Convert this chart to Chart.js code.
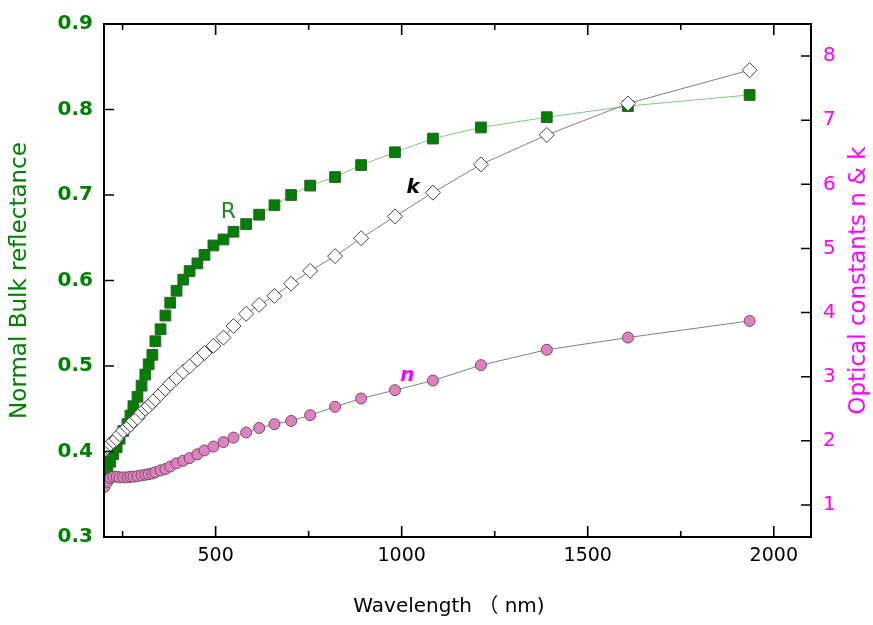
<!DOCTYPE html>
<html>
<head>
<meta charset="utf-8">
<script src="https://cdn.jsdelivr.net/npm/chart.js@4.4.1/dist/chart.umd.min.js"></script>
<style>
  html, body { margin: 0; padding: 0; background: #fff; }
  #wrap { width: 873px; height: 625px; }
</style>
</head>
<body>
<div id="wrap"><canvas id="chart" width="873" height="625"></canvas></div>
<script>
// wavelength (nm)
const wavelength = [201, 209, 217, 225, 234, 242, 252, 263, 271, 279, 290, 301, 311, 320, 330,
  338, 352, 365, 378, 395, 413, 430, 451, 470, 494, 521, 548, 582, 617, 658,
  703, 754, 821, 891, 982, 1084, 1213, 1390, 1608, 1935];

// normal bulk reflectance (left axis)
const reflectance = [0.374, 0.380, 0.388, 0.397, 0.405, 0.415, 0.424, 0.432, 0.442, 0.453, 0.464, 0.477, 0.490, 0.502, 0.513,
  0.529, 0.543, 0.559, 0.574, 0.588, 0.601, 0.611, 0.620, 0.630, 0.641, 0.648, 0.657, 0.666, 0.677, 0.688,
  0.700, 0.711, 0.721, 0.735, 0.750, 0.766, 0.779, 0.791, 0.804, 0.817];

// extinction coefficient k (right axis)
const kValues = [1.86, 1.90, 1.95, 1.99, 2.03, 2.10, 2.16, 2.21, 2.25, 2.31, 2.36, 2.44, 2.50, 2.54, 2.60,
  2.65, 2.73, 2.81, 2.89, 2.98, 3.08, 3.16, 3.27, 3.37, 3.48, 3.61, 3.79, 3.98, 4.12, 4.26,
  4.45, 4.65, 4.88, 5.16, 5.50, 5.87, 6.31, 6.77, 7.26, 7.78];

// refractive index n (right axis)
const nValues = [1.28, 1.36, 1.42, 1.44, 1.44, 1.43, 1.43, 1.43, 1.44, 1.44, 1.45, 1.46, 1.47, 1.48, 1.49,
  1.51, 1.54, 1.56, 1.60, 1.65, 1.69, 1.73, 1.79, 1.85, 1.91, 1.98, 2.05, 2.13, 2.20, 2.26,
  2.31, 2.40, 2.53, 2.66, 2.79, 2.94, 3.18, 3.42, 3.61, 3.87];

const xTicks = [500, 1000, 1500, 2000];
const xMinorTicks = [250, 750, 1250, 1750];
const leftTicks = [0.3, 0.4, 0.5, 0.6, 0.7, 0.8, 0.9];
const rightTicks = [1, 2, 3, 4, 5, 6, 7, 8];

// text labels beside the curves: [text, x, y, axis]
const curveLabels = [
  ["R", 534, 0.68, "y"],
  ["k", 1031, 5.94, "y1"],
  ["n", 1015, 3.02, "y1"],
];

const FONT = "'DejaVu Sans', 'Liberation Sans', sans-serif";
const CJK = "'DejaVu Sans', 'Noto Sans CJK SC', sans-serif";
const GREEN = "#008000";
const MAGENTA = "#ff00ff";

const pts = (ys) => wavelength.map((w, i) => ({ x: w, y: ys[i] }));

const frameTicks = {
  id: "frameTicks",
  afterDatasetsDraw(chart) {
    const { ctx, chartArea: a, scales } = chart;
    const sx = scales.x, sl = scales.y, sr = scales.y1;
    ctx.save();
    ctx.strokeStyle = "#000";
    ctx.lineWidth = 1.6;
    ctx.beginPath();
    const tick = (x1, y1, x2, y2) => { ctx.moveTo(x1, y1); ctx.lineTo(x2, y2); };
    xTicks.forEach((v) => {
      const p = sx.getPixelForValue(v);
      tick(p, a.bottom, p, a.bottom - 11);
      tick(p, a.top, p, a.top + 11);
    });
    xMinorTicks.forEach((v) => {
      const p = sx.getPixelForValue(v);
      tick(p, a.bottom, p, a.bottom - 6);
      tick(p, a.top, p, a.top + 6);
    });
    leftTicks.forEach((v) => {
      const p = sl.getPixelForValue(v);
      tick(a.left, p, a.left + 10, p);
    });
    rightTicks.forEach((v) => {
      const p = sr.getPixelForValue(v);
      tick(a.right, p, a.right - 10, p);
    });
    ctx.stroke();
    ctx.lineWidth = 2;
    ctx.strokeRect(a.left, a.top, a.right - a.left, a.bottom - a.top);

    // curve labels
    ctx.textAlign = "center";
    ctx.textBaseline = "middle";
    curveLabels.forEach(([t, x, y, ax]) => {
      const px = sx.getPixelForValue(x);
      const py = scales[ax].getPixelForValue(y);
      if (t === "R") {
        ctx.font = "22px " + FONT;
        ctx.fillStyle = "#1a8c1a";
      } else {
        ctx.font = "italic bold 20px " + FONT;
        ctx.fillStyle = t === "k" ? "#000" : MAGENTA;
      }
      ctx.fillText(t, px, py);
    });

    // x axis title
    ctx.font = "20px " + CJK;
    ctx.fillStyle = "#000";
    ctx.fillText("Wavelength （ nm)", 449, 607);

    // right axis title, reading bottom to top
    ctx.save();
    ctx.translate(859, (a.top + a.bottom) / 2);
    ctx.rotate(-Math.PI / 2);
    ctx.font = "23px " + FONT;
    ctx.fillStyle = MAGENTA;
    ctx.fillText("Optical constants n & k", 0, 0);
    ctx.restore();
    ctx.restore();
  },
};

new Chart(document.getElementById("chart"), {
  type: "line",
  data: {
    datasets: [
      {
        label: "k",
        data: pts(kValues),
        yAxisID: "y1",
        borderColor: "#808080",
        borderWidth: 1,
        pointStyle: "rectRot",
        pointRadius: 7.5,
        pointBackgroundColor: "#ffffff",
        pointBorderColor: "#444444",
        pointBorderWidth: 1,
      },
      {
        label: "n",
        data: pts(nValues),
        yAxisID: "y1",
        borderColor: "#808080",
        borderWidth: 1,
        pointStyle: "circle",
        pointRadius: 5.5,
        pointBackgroundColor: "#df80c0",
        pointBorderColor: "#6e5060",
        pointBorderWidth: 1,
      },
      {
        label: "R",
        data: pts(reflectance),
        yAxisID: "y",
        borderColor: "#80c880",
        borderWidth: 1,
        pointStyle: "rect",
        pointRadius: 7.6,
        pointBackgroundColor: "#007f00",
        pointBorderColor: "#2f5f2f",
        pointBorderWidth: 1,
      },
    ],
  },
  options: {
    responsive: false,
    animation: false,
    events: [],
    layout: { padding: { top: 20, left: 0, right: 0, bottom: 0 } },
    elements: { line: { tension: 0 } },
    plugins: { legend: { display: false }, tooltip: { enabled: false } },
    scales: {
      x: {
        type: "linear",
        min: 200,
        max: 2100,
        border: { display: false },
        grid: { display: false, drawTicks: false },
        afterBuildTicks: (s) => { s.ticks = xTicks.map((v) => ({ value: v })); },
        afterFit: (s) => { s.height = 88; },
        ticks: { padding: 8, color: "#000", font: { family: FONT, size: 19 }, callback: (v) => String(v) },
      },
      y: {
        type: "linear",
        position: "left",
        min: 0.3,
        max: 0.9,
        border: { display: false },
        grid: { display: false, drawTicks: false },
        afterBuildTicks: (s) => { s.ticks = leftTicks.map((v) => ({ value: v })); },
        afterFit: (s) => { s.width = 104; },
        ticks: { padding: 11, color: GREEN, font: { family: FONT, size: 20, weight: "bold" }, callback: (v) => Number(v).toFixed(1) },
        title: {
          display: true,
          text: "Normal Bulk reflectance",
          color: GREEN,
          font: { family: FONT, size: 23 },
          padding: { top: 6, bottom: 0 },
        },
      },
      y1: {
        type: "linear",
        position: "right",
        min: 0.5,
        max: 8.5,
        border: { display: false },
        grid: { display: false, drawTicks: false },
        afterBuildTicks: (s) => { s.ticks = rightTicks.map((v) => ({ value: v })); },
        afterFit: (s) => { s.width = 62; },
        ticks: { padding: 12, color: MAGENTA, font: { family: FONT, size: 20 }, callback: (v) => String(v) },
      },
    },
  },
  plugins: [frameTicks],
});
</script>
</body>
</html>
